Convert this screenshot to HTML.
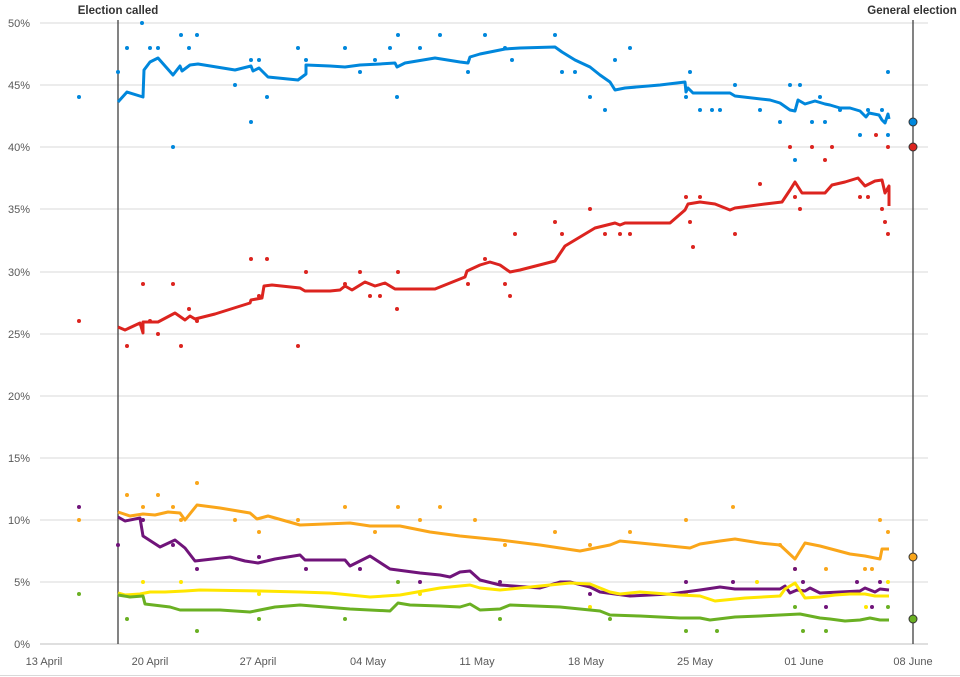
<!DOCTYPE html>
<html><head><meta charset="utf-8"><style>
html,body{margin:0;padding:0;background:#fff}
svg{display:block}
text{font-family:"Liberation Sans",sans-serif}
</style></head><body>
<svg width="960" height="677" viewBox="0 0 960 677">
<g stroke="#d9d9d9" stroke-width="1">
<line x1="40" y1="23" x2="928" y2="23"/><line x1="40" y1="85" x2="928" y2="85"/><line x1="40" y1="147" x2="928" y2="147"/><line x1="40" y1="209" x2="928" y2="209"/><line x1="40" y1="272" x2="928" y2="272"/><line x1="40" y1="334" x2="928" y2="334"/><line x1="40" y1="396" x2="928" y2="396"/><line x1="40" y1="458" x2="928" y2="458"/><line x1="40" y1="520" x2="928" y2="520"/><line x1="40" y1="582" x2="928" y2="582"/>
</g>
<line x1="40" y1="644" x2="928" y2="644" stroke="#bfbfbf"/>
<line x1="0" y1="675.5" x2="960" y2="675.5" stroke="#d9d9d9"/>
<g font-size="11" fill="#595959" text-anchor="end">
<text x="30" y="27">50%</text><text x="30" y="89">45%</text><text x="30" y="151">40%</text><text x="30" y="213">35%</text><text x="30" y="276">30%</text><text x="30" y="338">25%</text><text x="30" y="400">20%</text><text x="30" y="462">15%</text><text x="30" y="524">10%</text><text x="30" y="586">5%</text><text x="30" y="648">0%</text>
</g>
<g font-size="11" fill="#595959" text-anchor="middle">
<text x="44" y="665">13 April</text><text x="150" y="665">20 April</text><text x="258" y="665">27 April</text><text x="368" y="665">04 May</text><text x="477" y="665">11 May</text><text x="586" y="665">18 May</text><text x="695" y="665">25 May</text><text x="804" y="665">01 June</text><text x="913" y="665">08 June</text>
</g>
<line x1="118" y1="20" x2="118" y2="644" stroke="#404040" stroke-width="1.3"/>
<line x1="913" y1="20" x2="913" y2="644" stroke="#404040" stroke-width="1.3"/>
<text x="118" y="14" font-size="11.5" font-weight="bold" fill="#333" text-anchor="middle">Election called</text>
<text x="912" y="14" font-size="11.5" font-weight="bold" fill="#333" text-anchor="middle">General election</text>

<g fill="#0087dc">
<circle cx="79" cy="97" r="2"/><circle cx="118" cy="72" r="2"/><circle cx="127" cy="48" r="2"/><circle cx="142" cy="23" r="2"/><circle cx="150" cy="48" r="2"/><circle cx="158" cy="48" r="2"/><circle cx="173" cy="147" r="2"/><circle cx="181" cy="35" r="2"/><circle cx="189" cy="48" r="2"/><circle cx="197" cy="35" r="2"/><circle cx="235" cy="85" r="2"/><circle cx="251" cy="122" r="2"/><circle cx="251" cy="60" r="2"/><circle cx="259" cy="60" r="2"/><circle cx="267" cy="97" r="2"/><circle cx="298" cy="48" r="2"/><circle cx="306" cy="60" r="2"/><circle cx="345" cy="48" r="2"/><circle cx="360" cy="72" r="2"/><circle cx="375" cy="60" r="2"/><circle cx="390" cy="48" r="2"/><circle cx="397" cy="97" r="2"/><circle cx="398" cy="35" r="2"/><circle cx="420" cy="48" r="2"/><circle cx="440" cy="35" r="2"/><circle cx="468" cy="72" r="2"/><circle cx="485" cy="35" r="2"/><circle cx="505" cy="48" r="2"/><circle cx="512" cy="60" r="2"/><circle cx="555" cy="35" r="2"/><circle cx="562" cy="72" r="2"/><circle cx="575" cy="72" r="2"/><circle cx="590" cy="97" r="2"/><circle cx="605" cy="110" r="2"/><circle cx="615" cy="60" r="2"/><circle cx="630" cy="48" r="2"/><circle cx="686" cy="97" r="2"/><circle cx="690" cy="72" r="2"/><circle cx="700" cy="110" r="2"/><circle cx="712" cy="110" r="2"/><circle cx="720" cy="110" r="2"/><circle cx="735" cy="85" r="2"/><circle cx="760" cy="110" r="2"/><circle cx="780" cy="122" r="2"/><circle cx="790" cy="85" r="2"/><circle cx="795" cy="160" r="2"/><circle cx="800" cy="85" r="2"/><circle cx="812" cy="122" r="2"/><circle cx="820" cy="97" r="2"/><circle cx="825" cy="122" r="2"/><circle cx="840" cy="110" r="2"/><circle cx="860" cy="135" r="2"/><circle cx="868" cy="110" r="2"/><circle cx="882" cy="110" r="2"/><circle cx="888" cy="72" r="2"/><circle cx="888" cy="135" r="2"/>
</g>
<g fill="#dc241f">
<circle cx="79" cy="321" r="2"/><circle cx="127" cy="346" r="2"/><circle cx="143" cy="284" r="2"/><circle cx="150" cy="321" r="2"/><circle cx="158" cy="334" r="2"/><circle cx="173" cy="284" r="2"/><circle cx="181" cy="346" r="2"/><circle cx="189" cy="309" r="2"/><circle cx="197" cy="321" r="2"/><circle cx="251" cy="259" r="2"/><circle cx="259" cy="296" r="2"/><circle cx="267" cy="259" r="2"/><circle cx="298" cy="346" r="2"/><circle cx="306" cy="272" r="2"/><circle cx="345" cy="284" r="2"/><circle cx="360" cy="272" r="2"/><circle cx="370" cy="296" r="2"/><circle cx="380" cy="296" r="2"/><circle cx="397" cy="309" r="2"/><circle cx="398" cy="272" r="2"/><circle cx="468" cy="284" r="2"/><circle cx="485" cy="259" r="2"/><circle cx="505" cy="284" r="2"/><circle cx="510" cy="296" r="2"/><circle cx="515" cy="234" r="2"/><circle cx="555" cy="222" r="2"/><circle cx="562" cy="234" r="2"/><circle cx="590" cy="209" r="2"/><circle cx="605" cy="234" r="2"/><circle cx="620" cy="234" r="2"/><circle cx="630" cy="234" r="2"/><circle cx="686" cy="197" r="2"/><circle cx="690" cy="222" r="2"/><circle cx="693" cy="247" r="2"/><circle cx="700" cy="197" r="2"/><circle cx="735" cy="234" r="2"/><circle cx="760" cy="184" r="2"/><circle cx="790" cy="147" r="2"/><circle cx="795" cy="197" r="2"/><circle cx="800" cy="209" r="2"/><circle cx="812" cy="147" r="2"/><circle cx="825" cy="160" r="2"/><circle cx="832" cy="147" r="2"/><circle cx="860" cy="197" r="2"/><circle cx="868" cy="197" r="2"/><circle cx="876" cy="135" r="2"/><circle cx="882" cy="209" r="2"/><circle cx="888" cy="234" r="2"/><circle cx="888" cy="147" r="2"/><circle cx="885" cy="222" r="2"/>
</g>
<g fill="#faa61a">
<circle cx="79" cy="520" r="2"/><circle cx="127" cy="495" r="2"/><circle cx="143" cy="507" r="2"/><circle cx="158" cy="495" r="2"/><circle cx="173" cy="507" r="2"/><circle cx="181" cy="520" r="2"/><circle cx="197" cy="483" r="2"/><circle cx="235" cy="520" r="2"/><circle cx="259" cy="532" r="2"/><circle cx="298" cy="520" r="2"/><circle cx="345" cy="507" r="2"/><circle cx="375" cy="532" r="2"/><circle cx="398" cy="507" r="2"/><circle cx="420" cy="520" r="2"/><circle cx="440" cy="507" r="2"/><circle cx="475" cy="520" r="2"/><circle cx="505" cy="545" r="2"/><circle cx="555" cy="532" r="2"/><circle cx="590" cy="545" r="2"/><circle cx="630" cy="532" r="2"/><circle cx="686" cy="520" r="2"/><circle cx="733" cy="507" r="2"/><circle cx="780" cy="545" r="2"/><circle cx="795" cy="569" r="2"/><circle cx="826" cy="569" r="2"/><circle cx="865" cy="569" r="2"/><circle cx="872" cy="569" r="2"/><circle cx="880" cy="520" r="2"/><circle cx="888" cy="532" r="2"/>
</g>
<g fill="#70147a">
<circle cx="79" cy="507" r="2"/><circle cx="118" cy="545" r="2"/><circle cx="143" cy="520" r="2"/><circle cx="173" cy="545" r="2"/><circle cx="197" cy="569" r="2"/><circle cx="259" cy="557" r="2"/><circle cx="306" cy="569" r="2"/><circle cx="360" cy="569" r="2"/><circle cx="420" cy="582" r="2"/><circle cx="500" cy="582" r="2"/><circle cx="590" cy="594" r="2"/><circle cx="686" cy="582" r="2"/><circle cx="733" cy="582" r="2"/><circle cx="795" cy="569" r="2"/><circle cx="803" cy="582" r="2"/><circle cx="826" cy="607" r="2"/><circle cx="857" cy="582" r="2"/><circle cx="872" cy="607" r="2"/><circle cx="880" cy="582" r="2"/>
</g>
<g fill="#ffe600">
<circle cx="143" cy="582" r="2"/><circle cx="181" cy="582" r="2"/><circle cx="259" cy="594" r="2"/><circle cx="420" cy="594" r="2"/><circle cx="590" cy="607" r="2"/><circle cx="686" cy="594" r="2"/><circle cx="757" cy="582" r="2"/><circle cx="866" cy="607" r="2"/><circle cx="888" cy="582" r="2"/>
</g>
<g fill="#6ab023">
<circle cx="79" cy="594" r="2"/><circle cx="127" cy="619" r="2"/><circle cx="197" cy="631" r="2"/><circle cx="259" cy="619" r="2"/><circle cx="345" cy="619" r="2"/><circle cx="398" cy="582" r="2"/><circle cx="500" cy="619" r="2"/><circle cx="610" cy="619" r="2"/><circle cx="686" cy="631" r="2"/><circle cx="717" cy="631" r="2"/><circle cx="795" cy="607" r="2"/><circle cx="803" cy="631" r="2"/><circle cx="826" cy="631" r="2"/><circle cx="888" cy="607" r="2"/>
</g>

<g fill="none" stroke-width="3" stroke-linejoin="round">
<polyline stroke="#0087dc" points="118,102 127,92 143,97 144,70 150,62 158,58 173,75 180,66 182,71 190,65 198,64 235,70 251,66 253,71 259,68 268,77 298,80 306,74 306,65 330,66 345,67 360,65 380,64 395,63 397,67 405,63 435,58 460,62 468,63 470,57 480,54 505,49 520,48 555,47 562,52 575,60 590,67 600,75 610,82 615,90 625,88 660,85 685,82 686,92 688,88 693,93 700,93 730,93 735,96 770,100 780,103 790,110 795,111 798,100 805,104 815,101 825,104 830,105 840,108 850,108 860,111 866,117 869,113 879,115 882,120 885,123 888,114 889,119"/>
<polyline stroke="#dc241f" points="118,327 125,330 140,323 143,333 143,322 158,322 175,313 185,320 190,316 195,319 215,314 250,303 251,300 262,298 264,286 272,285 300,288 305,291 330,291 340,290 345,286 352,290 365,282 375,286 385,283 395,289 435,289 465,277 467,271 480,265 490,262 500,265 510,272 520,270 555,261 565,246 595,228 615,223 620,225 625,223 670,223 685,210 688,204 700,202 715,204 730,210 735,208 765,204 782,202 790,190 795,182 802,193 825,193 832,185 845,182 858,178 865,186 875,181 882,180 885,193 889,186 889,206"/>
<polyline stroke="#faa61a" points="118,512 130,516 143,514 155,515 168,512 180,513 185,520 197,505 220,508 250,513 257,519 268,516 300,525 350,523 370,526 400,526 430,532 460,536 500,540 540,545 560,548 580,551 590,549 610,545 620,541 650,544 690,548 700,544 720,541 735,539 760,543 780,545 795,559 800,551 805,543 820,546 835,550 850,554 865,556 880,559 882,549 889,549"/>
<polyline stroke="#70147a" points="118,517 125,521 140,518 143,536 160,547 175,540 185,548 195,561 230,557 245,561 258,563 275,559 300,555 305,560 345,560 350,566 370,556 390,569 420,573 440,575 450,577 460,572 470,571 480,580 500,585 540,588 560,582 570,582 590,587 600,592 630,596 670,594 700,590 720,587 735,589 780,589 785,586 790,593 797,590 805,591 810,588 820,593 840,592 860,591 865,588 875,592 880,589 889,590"/>
<polyline stroke="#ffe600" points="118,593 125,595 140,594 150,592 165,592 185,591 200,590 260,591 300,592 330,593 370,597 400,595 440,588 470,585 480,588 500,590 550,585 570,583 590,584 610,592 620,594 640,592 680,595 700,596 715,601 745,598 780,596 785,589 795,583 805,598 820,597 835,595 850,594 865,594 875,596 889,596"/>
<polyline stroke="#6ab023" points="118,595 130,597 143,596 145,604 170,607 180,610 220,610 250,612 275,607 300,605 350,609 390,611 398,603 410,605 440,606 460,607 470,604 480,610 500,609 510,605 560,607 600,611 610,615 640,616 680,618 700,618 710,620 735,617 760,616 780,615 800,614 820,618 830,619 845,621 860,620 870,618 880,620 889,620"/>
</g>
<g stroke="#333" stroke-width="1">
<circle cx="913" cy="122" r="4" fill="#0087dc"/>
<circle cx="913" cy="147" r="4" fill="#dc241f"/>
<circle cx="913" cy="557" r="4" fill="#faa61a"/>
<circle cx="913" cy="619" r="4" fill="#6ab023"/>
</g>
</svg>
</body></html>
